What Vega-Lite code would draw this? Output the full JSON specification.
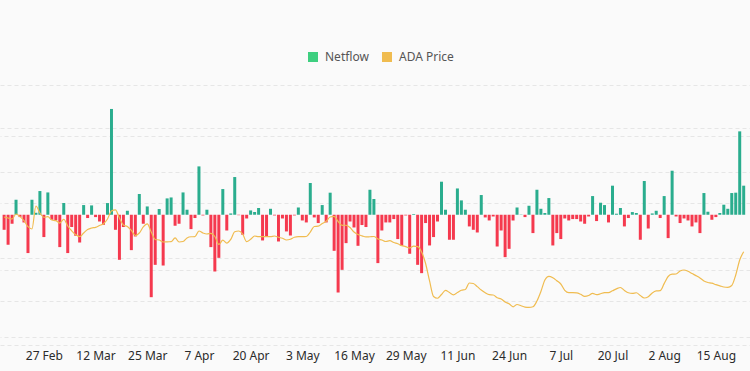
{
  "$schema": "https://vega.github.io/schema/vega-lite/v6.json",
  "width": 750,
  "height": 259.5,
  "autosize": {"type": "none"},
  "padding": {"left": 0, "top": 85, "right": 0, "bottom": 26.5},
  "background": "#fafafa",
  "config": {
    "view": {"stroke": null},
    "font": "Noto Sans",
    "axis": {"labelFont": "Noto Sans", "titleFont": "Noto Sans"},
    "legend": {"labelFont": "Noto Sans"}
  },
  "data": {
    "values": [
      {"date": "2023-02-17", "netflow": -17.4, "price": 0.4791},
      {"date": "2023-02-18", "netflow": -34.7, "price": 0.4776},
      {"date": "2023-02-19", "netflow": -10.4, "price": 0.4761},
      {"date": "2023-02-20", "netflow": 17.4, "price": 0.4836},
      {"date": "2023-02-21", "netflow": -2.7, "price": 0.4796},
      {"date": "2023-02-22", "netflow": -8.9, "price": 0.4736},
      {"date": "2023-02-23", "netflow": -44.3, "price": 0.4646},
      {"date": "2023-02-24", "netflow": 17.4, "price": 0.4612},
      {"date": "2023-02-25", "netflow": 2.3, "price": 0.4955},
      {"date": "2023-02-26", "netflow": 27.4, "price": 0.4851},
      {"date": "2023-02-27", "netflow": -25.8, "price": 0.4787},
      {"date": "2023-02-28", "netflow": 25.8, "price": 0.4796},
      {"date": "2023-03-01", "netflow": -5.8, "price": 0.4746},
      {"date": "2023-03-02", "netflow": -6.6, "price": 0.4736},
      {"date": "2023-03-03", "netflow": -37.4, "price": 0.4701},
      {"date": "2023-03-04", "netflow": 13.5, "price": 0.4757},
      {"date": "2023-03-05", "netflow": -44.3, "price": 0.4657},
      {"date": "2023-03-06", "netflow": -14.2, "price": 0.4585},
      {"date": "2023-03-07", "netflow": -24.3, "price": 0.4527},
      {"date": "2023-03-08", "netflow": -32.1, "price": 0.4497},
      {"date": "2023-03-09", "netflow": 11.2, "price": 0.4552},
      {"date": "2023-03-10", "netflow": -3.8, "price": 0.4604},
      {"date": "2023-03-11", "netflow": 10.8, "price": 0.4627},
      {"date": "2023-03-12", "netflow": -2.7, "price": 0.4637},
      {"date": "2023-03-13", "netflow": -7.8, "price": 0.4664},
      {"date": "2023-03-14", "netflow": -11.6, "price": 0.4690},
      {"date": "2023-03-15", "netflow": 13.5, "price": 0.4761},
      {"date": "2023-03-16", "netflow": 122.3, "price": 0.4881},
      {"date": "2023-03-17", "netflow": -17.4, "price": 0.4896},
      {"date": "2023-03-18", "netflow": -52.1, "price": 0.4776},
      {"date": "2023-03-19", "netflow": -14.2, "price": 0.4672},
      {"date": "2023-03-20", "netflow": 4.6, "price": 0.4648},
      {"date": "2023-03-21", "netflow": -40.9, "price": 0.4590},
      {"date": "2023-03-22", "netflow": -25.1, "price": 0.4515},
      {"date": "2023-03-23", "netflow": 24.0, "price": 0.4552},
      {"date": "2023-03-24", "netflow": -10.4, "price": 0.4642},
      {"date": "2023-03-25", "netflow": 9.6, "price": 0.4687},
      {"date": "2023-03-26", "netflow": -95.3, "price": 0.4567},
      {"date": "2023-03-27", "netflow": -57.9, "price": 0.4455},
      {"date": "2023-03-28", "netflow": 6.6, "price": 0.4448},
      {"date": "2023-03-29", "netflow": -58.7, "price": 0.4418},
      {"date": "2023-03-30", "netflow": 18.9, "price": 0.4421},
      {"date": "2023-03-31", "netflow": 20.0, "price": 0.4422},
      {"date": "2023-04-01", "netflow": -12.7, "price": 0.4478},
      {"date": "2023-04-02", "netflow": -10.4, "price": 0.4418},
      {"date": "2023-04-03", "netflow": 25.8, "price": 0.4425},
      {"date": "2023-04-04", "netflow": 5.8, "price": 0.4478},
      {"date": "2023-04-05", "netflow": -16.6, "price": 0.4496},
      {"date": "2023-04-06", "netflow": -3.8, "price": 0.4497},
      {"date": "2023-04-07", "netflow": 55.9, "price": 0.4582},
      {"date": "2023-04-08", "netflow": -0.8, "price": 0.4552},
      {"date": "2023-04-09", "netflow": 5.8, "price": 0.4537},
      {"date": "2023-04-10", "netflow": -37.4, "price": 0.4548},
      {"date": "2023-04-11", "netflow": -65.6, "price": 0.4500},
      {"date": "2023-04-12", "netflow": -49.8, "price": 0.4381},
      {"date": "2023-04-13", "netflow": 29.7, "price": 0.4445},
      {"date": "2023-04-14", "netflow": -18.2, "price": 0.4400},
      {"date": "2023-04-15", "netflow": 1.5, "price": 0.4457},
      {"date": "2023-04-16", "netflow": 43.6, "price": 0.4570},
      {"date": "2023-04-17", "netflow": -0.5, "price": 0.4582},
      {"date": "2023-04-18", "netflow": -23.1, "price": 0.4537},
      {"date": "2023-04-19", "netflow": -4.3, "price": 0.4422},
      {"date": "2023-04-20", "netflow": 5.0, "price": 0.4458},
      {"date": "2023-04-21", "netflow": 3.1, "price": 0.4507},
      {"date": "2023-04-22", "netflow": 7.8, "price": 0.4497},
      {"date": "2023-04-23", "netflow": -29.7, "price": 0.4497},
      {"date": "2023-04-24", "netflow": -25.1, "price": 0.4497},
      {"date": "2023-04-25", "netflow": 6.9, "price": 0.4497},
      {"date": "2023-04-26", "netflow": -0.8, "price": 0.4507},
      {"date": "2023-04-27", "netflow": -30.9, "price": 0.4488},
      {"date": "2023-04-28", "netflow": -4.3, "price": 0.4473},
      {"date": "2023-04-29", "netflow": -19.3, "price": 0.4448},
      {"date": "2023-04-30", "netflow": -24.0, "price": 0.4458},
      {"date": "2023-05-01", "netflow": -0.8, "price": 0.4488},
      {"date": "2023-05-02", "netflow": 8.4, "price": 0.4497},
      {"date": "2023-05-03", "netflow": -6.6, "price": 0.4497},
      {"date": "2023-05-04", "netflow": -8.9, "price": 0.4500},
      {"date": "2023-05-05", "netflow": 36.7, "price": 0.4567},
      {"date": "2023-05-06", "netflow": -3.1, "price": 0.4649},
      {"date": "2023-05-07", "netflow": -9.6, "price": 0.4654},
      {"date": "2023-05-08", "netflow": 11.2, "price": 0.4694},
      {"date": "2023-05-09", "netflow": -8.9, "price": 0.4727},
      {"date": "2023-05-10", "netflow": 25.5, "price": 0.4791},
      {"date": "2023-05-11", "netflow": -41.7, "price": 0.4799},
      {"date": "2023-05-12", "netflow": -89.9, "price": 0.4724},
      {"date": "2023-05-13", "netflow": -63.7, "price": 0.4667},
      {"date": "2023-05-14", "netflow": -32.8, "price": 0.4668},
      {"date": "2023-05-15", "netflow": -7.8, "price": 0.4634},
      {"date": "2023-05-16", "netflow": -14.7, "price": 0.4567},
      {"date": "2023-05-17", "netflow": -35.9, "price": 0.4530},
      {"date": "2023-05-18", "netflow": -11.9, "price": 0.4510},
      {"date": "2023-05-19", "netflow": -14.2, "price": 0.4493},
      {"date": "2023-05-20", "netflow": 28.9, "price": 0.4496},
      {"date": "2023-05-21", "netflow": 18.2, "price": 0.4500},
      {"date": "2023-05-22", "netflow": -55.9, "price": 0.4463},
      {"date": "2023-05-23", "netflow": -18.2, "price": 0.4448},
      {"date": "2023-05-24", "netflow": -8.9, "price": 0.4425},
      {"date": "2023-05-25", "netflow": -8.9, "price": 0.4437},
      {"date": "2023-05-26", "netflow": -5.0, "price": 0.4410},
      {"date": "2023-05-27", "netflow": -28.1, "price": 0.4391},
      {"date": "2023-05-28", "netflow": -35.9, "price": 0.4363},
      {"date": "2023-05-29", "netflow": -0.8, "price": 0.4349},
      {"date": "2023-05-30", "netflow": -45.1, "price": 0.4328},
      {"date": "2023-05-31", "netflow": 0.8, "price": 0.4355},
      {"date": "2023-06-01", "netflow": -57.9, "price": 0.4349},
      {"date": "2023-06-02", "netflow": -67.5, "price": 0.4269},
      {"date": "2023-06-03", "netflow": -9.6, "price": 0.4097},
      {"date": "2023-06-04", "netflow": -35.5, "price": 0.3836},
      {"date": "2023-06-05", "netflow": -25.8, "price": 0.3604},
      {"date": "2023-06-06", "netflow": -7.8, "price": 0.3578},
      {"date": "2023-06-07", "netflow": 38.2, "price": 0.3634},
      {"date": "2023-06-08", "netflow": 5.8, "price": 0.3697},
      {"date": "2023-06-09", "netflow": -28.9, "price": 0.3664},
      {"date": "2023-06-10", "netflow": -28.9, "price": 0.3630},
      {"date": "2023-06-11", "netflow": 30.4, "price": 0.3664},
      {"date": "2023-06-12", "netflow": 16.6, "price": 0.3698},
      {"date": "2023-06-13", "netflow": 5.8, "price": 0.3709},
      {"date": "2023-06-14", "netflow": -13.5, "price": 0.3806},
      {"date": "2023-06-15", "netflow": -17.4, "price": 0.3799},
      {"date": "2023-06-16", "netflow": -20.5, "price": 0.3752},
      {"date": "2023-06-17", "netflow": 22.8, "price": 0.3701},
      {"date": "2023-06-18", "netflow": -3.1, "price": 0.3660},
      {"date": "2023-06-19", "netflow": -6.6, "price": 0.3631},
      {"date": "2023-06-20", "netflow": -2.0, "price": 0.3627},
      {"date": "2023-06-21", "netflow": -36.7, "price": 0.3587},
      {"date": "2023-06-22", "netflow": -18.2, "price": 0.3567},
      {"date": "2023-06-23", "netflow": -49.0, "price": 0.3522},
      {"date": "2023-06-24", "netflow": -39.4, "price": 0.3496},
      {"date": "2023-06-25", "netflow": -6.6, "price": 0.3451},
      {"date": "2023-06-26", "netflow": 8.4, "price": 0.3485},
      {"date": "2023-06-27", "netflow": 0.3, "price": 0.3467},
      {"date": "2023-06-28", "netflow": -2.7, "price": 0.3446},
      {"date": "2023-06-29", "netflow": 10.4, "price": 0.3443},
      {"date": "2023-06-30", "netflow": -21.2, "price": 0.3451},
      {"date": "2023-07-01", "netflow": 28.9, "price": 0.3537},
      {"date": "2023-07-02", "netflow": 6.9, "price": 0.3679},
      {"date": "2023-07-03", "netflow": 2.0, "price": 0.3851},
      {"date": "2023-07-04", "netflow": 19.3, "price": 0.3906},
      {"date": "2023-07-05", "netflow": -35.5, "price": 0.3885},
      {"date": "2023-07-06", "netflow": -21.2, "price": 0.3840},
      {"date": "2023-07-07", "netflow": -28.1, "price": 0.3791},
      {"date": "2023-07-08", "netflow": -4.3, "price": 0.3696},
      {"date": "2023-07-09", "netflow": -6.6, "price": 0.3661},
      {"date": "2023-07-10", "netflow": -5.0, "price": 0.3661},
      {"date": "2023-07-11", "netflow": -5.0, "price": 0.3658},
      {"date": "2023-07-12", "netflow": -7.8, "price": 0.3637},
      {"date": "2023-07-13", "netflow": -10.4, "price": 0.3607},
      {"date": "2023-07-14", "netflow": -2.0, "price": 0.3619},
      {"date": "2023-07-15", "netflow": 21.6, "price": 0.3652},
      {"date": "2023-07-16", "netflow": -7.3, "price": 0.3633},
      {"date": "2023-07-17", "netflow": 13.9, "price": 0.3645},
      {"date": "2023-07-18", "netflow": 11.2, "price": 0.3661},
      {"date": "2023-07-19", "netflow": -8.9, "price": 0.3661},
      {"date": "2023-07-20", "netflow": 33.6, "price": 0.3690},
      {"date": "2023-07-21", "netflow": 1.2, "price": 0.3719},
      {"date": "2023-07-22", "netflow": 7.8, "price": 0.3739},
      {"date": "2023-07-23", "netflow": -13.5, "price": 0.3694},
      {"date": "2023-07-24", "netflow": -3.8, "price": 0.3660},
      {"date": "2023-07-25", "netflow": 3.1, "price": 0.3652},
      {"date": "2023-07-26", "netflow": 2.0, "price": 0.3660},
      {"date": "2023-07-27", "netflow": -28.9, "price": 0.3619},
      {"date": "2023-07-28", "netflow": 39.0, "price": 0.3582},
      {"date": "2023-07-29", "netflow": -15.9, "price": 0.3601},
      {"date": "2023-07-30", "netflow": 1.5, "price": 0.3657},
      {"date": "2023-07-31", "netflow": 4.6, "price": 0.3687},
      {"date": "2023-08-01", "netflow": -3.8, "price": 0.3691},
      {"date": "2023-08-02", "netflow": 21.6, "price": 0.3796},
      {"date": "2023-08-03", "netflow": -27.0, "price": 0.3903},
      {"date": "2023-08-04", "netflow": 50.9, "price": 0.3937},
      {"date": "2023-08-05", "netflow": -2.0, "price": 0.3940},
      {"date": "2023-08-06", "netflow": -9.6, "price": 0.3985},
      {"date": "2023-08-07", "netflow": -4.3, "price": 0.4000},
      {"date": "2023-08-08", "netflow": -6.6, "price": 0.3981},
      {"date": "2023-08-09", "netflow": -13.5, "price": 0.3948},
      {"date": "2023-08-10", "netflow": -8.9, "price": 0.3916},
      {"date": "2023-08-11", "netflow": -21.2, "price": 0.3881},
      {"date": "2023-08-12", "netflow": 25.1, "price": 0.3836},
      {"date": "2023-08-13", "netflow": 3.5, "price": 0.3813},
      {"date": "2023-08-14", "netflow": -5.8, "price": 0.3803},
      {"date": "2023-08-15", "netflow": -2.7, "price": 0.3781},
      {"date": "2023-08-16", "netflow": 2.0, "price": 0.3764},
      {"date": "2023-08-17", "netflow": 11.6, "price": 0.3746},
      {"date": "2023-08-18", "netflow": 6.9, "price": 0.3742},
      {"date": "2023-08-19", "netflow": 25.1, "price": 0.3769},
      {"date": "2023-08-20", "netflow": 25.5, "price": 0.3925},
      {"date": "2023-08-21", "netflow": 96.4, "price": 0.4149},
      {"date": "2023-08-22", "netflow": 33.6, "price": 0.4273}
    ]
  },
  "encoding": {
    "x": {
      "field": "date",
      "type": "temporal",
      "scale": {
        "type": "utc",
        "domain": [
          {"year": 2023, "month": 2, "date": 17, "hours": 5, "minutes": 21, "utc": true},
          {"year": 2023, "month": 8, "date": 22, "hours": 7, "minutes": 55, "utc": true}
        ]
      },
      "axis": {
        "title": null,
        "values": [
          {"year": 2023, "month": 2, "date": 27, "utc": true},
          {"year": 2023, "month": 3, "date": 12, "utc": true},
          {"year": 2023, "month": 3, "date": 25, "utc": true},
          {"year": 2023, "month": 4, "date": 7, "utc": true},
          {"year": 2023, "month": 4, "date": 20, "utc": true},
          {"year": 2023, "month": 5, "date": 3, "utc": true},
          {"year": 2023, "month": 5, "date": 16, "utc": true},
          {"year": 2023, "month": 5, "date": 29, "utc": true},
          {"year": 2023, "month": 6, "date": 11, "utc": true},
          {"year": 2023, "month": 6, "date": 24, "utc": true},
          {"year": 2023, "month": 7, "date": 7, "utc": true},
          {"year": 2023, "month": 7, "date": 20, "utc": true},
          {"year": 2023, "month": 8, "date": 2, "utc": true},
          {"year": 2023, "month": 8, "date": 15, "utc": true}
        ],
        "labelExpr": "utcFormat(datum.value, '%-d %b')",
        "labelFlush": false,
        "labelOverlap": false,
        "labelBound": false,
        "grid": false,
        "domain": false,
        "ticks": false,
        "tickSize": 0,
        "labelPadding": 6,
        "labelFontSize": 12,
        "labelColor": "#2b2b2b"
      }
    }
  },
  "layer": [
    {
      "mark": {"type": "bar", "width": 3},
      "encoding": {
        "y": {
          "field": "netflow",
          "type": "quantitative",
          "scale": {"domain": [-150, 150], "nice": false},
          "axis": {
            "orient": "left",
            "title": null,
            "values": [-150, -100, -50, 50, 100, 150],
            "labels": false,
            "ticks": false,
            "domain": false,
            "grid": true,
            "gridColor": "#e6e6e6",
            "gridDash": [4, 3],
            "gridWidth": 1
          }
        },
        "color": {
          "condition": [
            {"test": "datum.netflow < 0", "value": "#f5394e"},
            {"test": "datum.netflow >= 0", "value": "#2aad8e"}
          ],
          "datum": "Netflow",
          "scale": {"domain": ["Netflow", "ADA Price"], "range": ["#3ecf80", "#f0bc50"]},
          "legend": {
            "title": null,
            "orient": "none",
            "direction": "horizontal",
            "legendX": 307,
            "legendY": -34,
            "symbolType": "square",
            "symbolSize": 100,
            "symbolStrokeWidth": 0,
            "labelFontSize": 12,
            "labelColor": "#555555",
            "labelOffset": 6,
            "columnPadding": 12
          }
        }
      }
    },
    {
      "mark": {"type": "line", "strokeWidth": 1.2, "interpolate": "monotone"},
      "encoding": {
        "y": {
          "field": "price",
          "type": "quantitative",
          "scale": {"domain": [0.2888, 0.6761], "nice": false, "zero": false},
          "axis": {
            "orient": "right",
            "title": null,
            "values": [0.3, 0.4, 0.5, 0.6],
            "labels": false,
            "ticks": false,
            "domain": false,
            "grid": true,
            "gridColor": "#e6e6e6",
            "gridDash": [4, 3],
            "gridWidth": 1
          }
        },
        "color": {"datum": "ADA Price", "legend": null}
      }
    }
  ],
  "resolve": {"scale": {"y": "independent"}}
}
